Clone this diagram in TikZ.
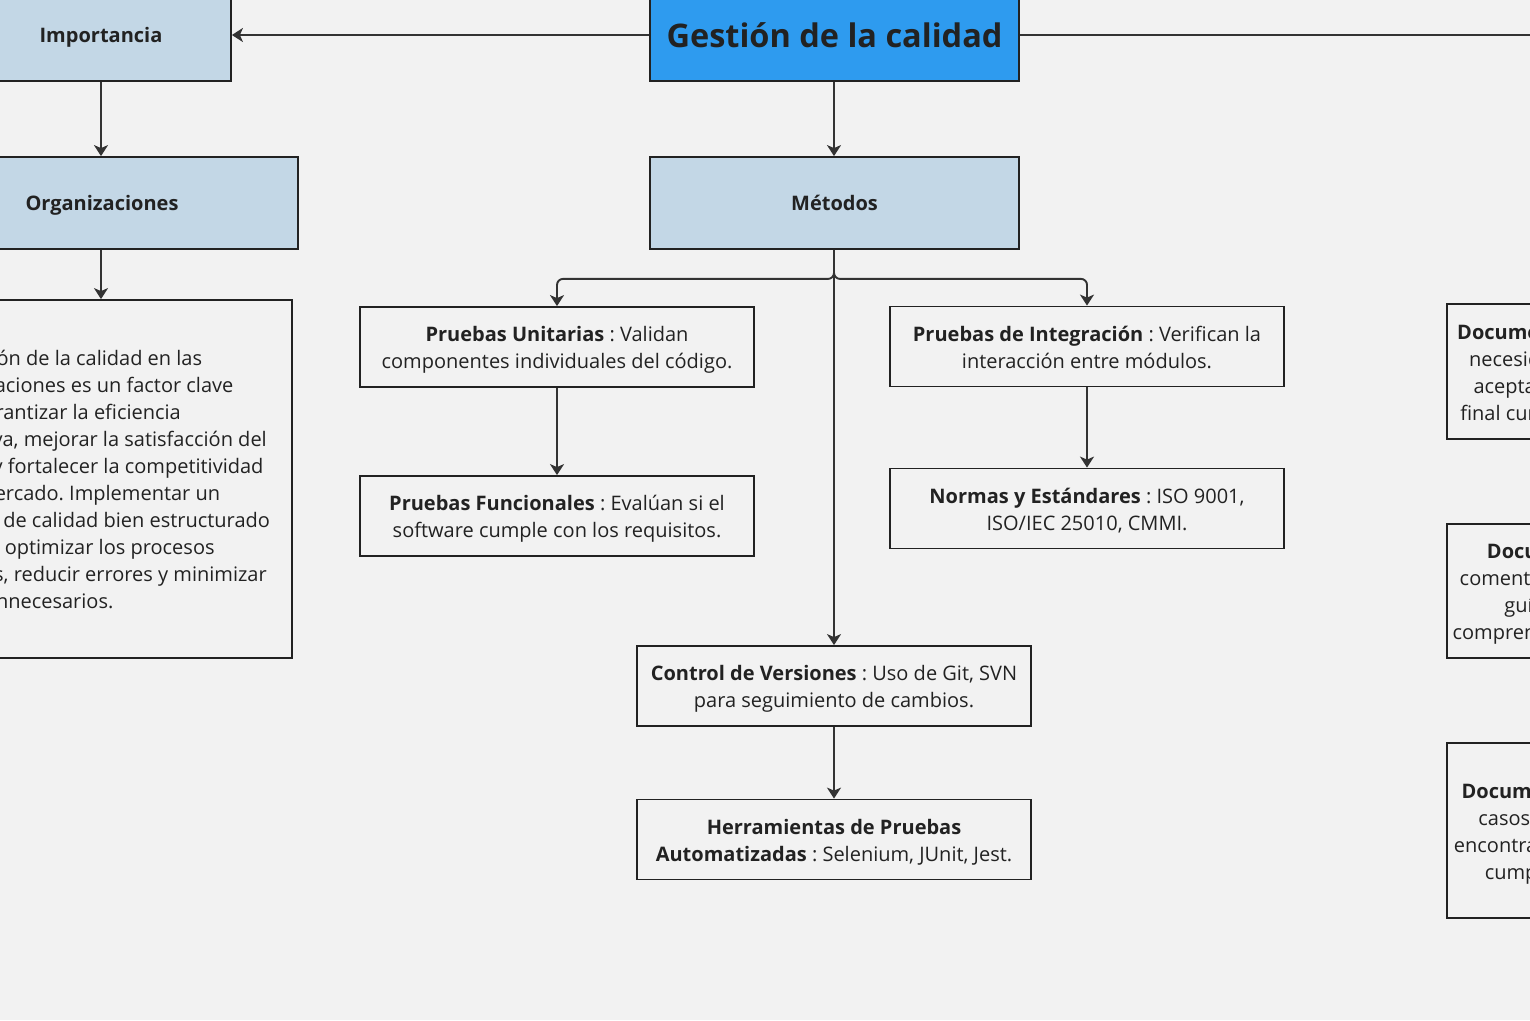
\documentclass[tikz,border=0pt]{standalone}
\usepackage{fontspec}
\setmainfont{Open Sans}
\frenchspacing
\usetikzlibrary{arrows.meta}
\definecolor{bg}{HTML}{F2F2F2}
\definecolor{titleblue}{HTML}{2E9BEF}
\definecolor{boxblue}{HTML}{C3D7E6}
\definecolor{ink}{HTML}{222222}
\definecolor{wire}{HTML}{333333}
\tikzset{
	box/.style={draw=ink, line width=1.8pt, inner sep=0pt, align=center, text=ink, font=\fontsize{20}{27}\selectfont},
	oneline/.style={text height=22pt, text depth=7pt},
	twolines/.style={text height=49pt, text depth=6pt},
	fourlines/.style={text height=103pt, text depth=6pt},
	topic/.style={box, oneline, fill=boxblue, minimum height=92pt, font=\fontsize{20}{27}\selectfont\bfseries},
	info/.style={box, twolines, minimum width=394pt, minimum height=80pt},
	sidebox/.style={box, fourlines, minimum width=394pt},
	link/.style={draw=wire, line width=1.9pt, -{Stealth[length=11pt,width=14pt,inset=3pt]}},
}
\begin{document}
\begin{tikzpicture}[x=1pt,y=-1pt]
		\useasboundingbox (0,0) rectangle (1530,1020);
		\clip (0,0) rectangle (1530,1020);
		\fill[bg] (0,0) rectangle (1530,1020);

		\node[box, fill=titleblue, minimum width=369pt, minimum height=92pt, font=\fontsize{32.5}{38}\selectfont\bfseries] (gestion) at (834.5,35) {Gestión de la calidad};
		\node[topic, minimum width=260pt] (importancia) at (101,35) {Importancia};
		\node[topic, minimum width=392pt] (organizaciones) at (102,203) {Organizaciones};
		\node[topic, minimum width=369pt] (metodos) at (834.5,203) {Métodos};
		\node[box, minimum width=382pt, minimum height=358pt, text width=350pt, align=flush left] (descripcion) at (101,479) {La gestión de la calidad en las\\organizaciones es un factor clave\\para garantizar la eficiencia\\operativa, mejorar la satisfacción del\\cliente y fortalecer la competitividad\\en el mercado. Implementar un\\sistema de calidad bien estructurado\\permite optimizar los procesos\\internos, reducir errores y minimizar\\costos innecesarios.};

		\node[info] (unitarias) at (557,347) {\textbf{Pruebas Unitarias} : Validan\\componentes individuales del código.};
		\node[info] (funcionales) at (557,516) {\textbf{Pruebas Funcionales} : Evalúan si el\\software cumple con los requisitos.};
		\node[info] (integracion) at (1087,346.5) {\textbf{Pruebas de Integración} : Verifican la\\interacción entre módulos.};
		\node[info] (normas) at (1087,508.5) {\textbf{Normas y Estándares} : ISO 9001,\\ISO/IEC 25010, CMMI.};
		\node[info] (versiones) at (834,686) {\textbf{Control de Versiones} : Uso de Git, SVN\\para seguimiento de cambios.};
		\node[info] (herramientas) at (834,839.5) {\textbf{Herramientas de Pruebas}\\\textbf{Automatizadas} : Selenium, JUnit, Jest.};

		\node[sidebox, minimum height=135pt] (docreq) at (1644,371.5) {\textbf{Documentación de Requisitos} : Define\\necesidades del usuario y criterios de\\aceptación para verificar el producto\\final cumple con todo lo que se solicitó.};
		\node[sidebox, minimum height=134pt] (doccod) at (1644,591) {\textbf{Documentación del Código} : Los\\comentarios incluidos en el código y las\\guías de estilo que facilitan su\\comprensión y su mantenimiento futuro.};
		\node[sidebox, minimum height=175pt] (docpru) at (1644,830.5) {\textbf{Documentación de Pruebas} : Registra\\casos de prueba y todos los errores\\encontrados para poder asegurar que se\\cumplan los estándares definidos.};
		\coordinate (derecha) at (1600,35);

		\draw[link] (gestion) -- (importancia);
		\draw[link] (gestion) -- (derecha);
		\draw[link] (gestion.south -| versiones) -- (metodos.north -| versiones);
		\draw[link] (importancia.south) -- (importancia.south |- organizaciones.north);
		\draw[link] (descripcion.north |- organizaciones.south) -- (descripcion.north);
		\draw[link, rounded corners=6pt] (metodos.south -| versiones) -- ++(0,29) -| (unitarias.north);
		\draw[link, rounded corners=6pt] (metodos.south -| versiones) -- ++(0,29) -| (integracion.north);
		\draw[link] (metodos.south -| versiones) -- (versiones);
		\draw[link] (unitarias) -- (funcionales);
		\draw[link] (integracion) -- (normas);
		\draw[link] (versiones) -- (herramientas);
	\end{tikzpicture}
\end{document}
